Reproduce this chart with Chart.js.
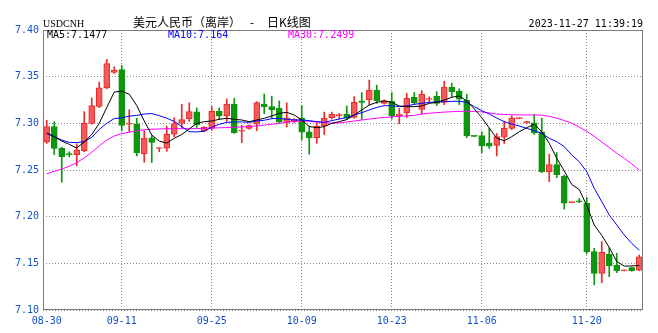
<!DOCTYPE html>
<html>
<head>
<meta charset="utf-8">
<script src="https://cdn.jsdelivr.net/npm/chart.js@4.4.0/dist/chart.umd.min.js"></script>
<style>
  body { margin: 0; background: #fff; }
  canvas { display: block; }
</style>
</head>
<body>
<canvas id="kline" width="658" height="333"></canvas>
<script>
// date labels on the time axis, and the session (candle) each one marks
const tickDates = ['08-30', '09-11', '09-25', '10-09', '10-23', '11-06', '11-20'];
const tickSlots = [0, 10, 22, 34, 46, 58, 72];

// daily candles, 80 sessions
const open = [
  7.2798, 7.2966, 7.2732, 7.2672, 7.2665, 7.2707, 7.2998, 7.3180, 7.3380, 7.3545,
  7.3575, 7.2990, 7.2995, 7.2671, 7.2846, 7.2730, 7.2735, 7.2885, 7.2998, 7.3050,
  7.3122, 7.2920, 7.2945, 7.3130, 7.3080, 7.3207, 7.2915, 7.2945, 7.2990, 7.3207,
  7.3180, 7.3162, 7.3007, 7.3018, 7.3054, 7.2910, 7.2846, 7.2971, 7.3062, 7.3080,
  7.3100, 7.3064, 7.3240, 7.3250, 7.3357, 7.3214, 7.3237, 7.3080, 7.3114, 7.3279,
  7.3150, 7.3255, 7.3293, 7.3225, 7.3386, 7.3346, 7.3250, 7.2865, 7.2868, 7.2789,
  7.2764, 7.2852, 7.2946, 7.3050, 7.3005, 7.3005, 7.2910, 7.2482, 7.2557, 7.2436,
  7.2150, 7.2165, 7.2143, 7.1625, 7.1393, 7.1596, 7.1482, 7.1420, 7.1455, 7.1428
];
const close = [
  7.2966, 7.2732, 7.2643, 7.2665, 7.2715, 7.3003, 7.3190, 7.3380, 7.3640, 7.3570,
  7.2978, 7.2997, 7.2686, 7.2843, 7.2795, 7.2735, 7.2885, 7.2998, 7.3040, 7.3125,
  7.2985, 7.2957, 7.3128, 7.3080, 7.3207, 7.2900, 7.2925, 7.2975, 7.3222, 7.3178,
  7.3143, 7.3012, 7.3060, 7.3040, 7.2905, 7.2845, 7.2971, 7.3054, 7.3100, 7.3095,
  7.3062, 7.3225, 7.3225, 7.3357, 7.3243, 7.3243, 7.3080, 7.3100, 7.3268, 7.3221,
  7.3311, 7.3260, 7.3214, 7.3389, 7.3339, 7.3260, 7.2864, 7.2860, 7.2757, 7.2754,
  7.2857, 7.2946, 7.3058, 7.3056, 7.3018, 7.2898, 7.2482, 7.2557, 7.2450, 7.2145,
  7.2158, 7.2158, 7.1625, 7.1393, 7.1618, 7.1475, 7.1421, 7.1428, 7.1422, 7.1571
];
const high = [
  7.3033, 7.3018, 7.2745, 7.2695, 7.2780, 7.3125, 7.3272, 7.3443, 7.3685, 7.3605,
  7.3622, 7.3145, 7.3055, 7.2920, 7.2870, 7.2738, 7.2970, 7.3060, 7.3205, 7.3220,
  7.3165, 7.2965, 7.3180, 7.3165, 7.3262, 7.3268, 7.2980, 7.2985, 7.3232, 7.3314,
  7.3290, 7.3240, 7.3220, 7.3050, 7.3190, 7.2970, 7.3020, 7.3120, 7.3120, 7.3105,
  7.3186, 7.3286, 7.3330, 7.3464, 7.3410, 7.3252, 7.3330, 7.3160, 7.3320, 7.3330,
  7.3350, 7.3285, 7.3340, 7.3450, 7.3430, 7.3370, 7.3310, 7.2868, 7.2910, 7.2946,
  7.2890, 7.3020, 7.3082, 7.3058, 7.3022, 7.3095, 7.3055, 7.2670, 7.2686, 7.2445,
  7.2160, 7.2195, 7.2207, 7.1661, 7.1732, 7.1668, 7.1607, 7.1430, 7.1460, 7.1590
];
const low = [
  7.2785, 7.2665, 7.2370, 7.2640, 7.2545, 7.2695, 7.2990, 7.3168, 7.3370, 7.3535,
  7.2920, 7.2912, 7.2650, 7.2583, 7.2580, 7.2695, 7.2700, 7.2855, 7.2950, 7.3020,
  7.2955, 7.2910, 7.2925, 7.3040, 7.3020, 7.2893, 7.2793, 7.2935, 7.2921, 7.3103,
  7.3050, 7.3005, 7.2960, 7.3005, 7.2821, 7.2671, 7.2786, 7.2880, 7.3045, 7.3048,
  7.3040, 7.3054, 7.3040, 7.3200, 7.3214, 7.3205, 7.3045, 7.2995, 7.3060, 7.3200,
  7.3100, 7.3232, 7.3190, 7.3200, 7.3286, 7.3200, 7.2846, 7.2855, 7.2686, 7.2730,
  7.2650, 7.2785, 7.2932, 7.3048, 7.2998, 7.2880, 7.2472, 7.2375, 7.2418, 7.2080,
  7.2148, 7.2150, 7.1600, 7.1270, 7.1293, 7.1357, 7.1400, 7.1418, 7.1415, 7.1420
];

// moving average lines as drawn on the picture
const ma5 = [
  7.2896, 7.2857, 7.2810, 7.2775, 7.2735, 7.2800, 7.2880, 7.3000, 7.3170, 7.3335,
  7.3345, 7.3312, 7.3190, 7.3025, 7.2875, 7.2810, 7.2788, 7.2840, 7.2880, 7.2940,
  7.3000, 7.3018, 7.3025, 7.3043, 7.3054, 7.3043, 7.3036, 7.3018, 7.3036, 7.3054,
  7.3079, 7.3107, 7.3118, 7.3089, 7.3036, 7.2966, 7.2954, 7.2964, 7.3000, 7.3018,
  7.3040, 7.3089, 7.3143, 7.3196, 7.3225, 7.3239, 7.3225, 7.3186, 7.3179, 7.3179,
  7.3186, 7.3214, 7.3225, 7.3250, 7.3279, 7.3293, 7.3240, 7.3155, 7.3060, 7.2950,
  7.2840, 7.2814, 7.2857, 7.2910, 7.2954, 7.2990, 7.2910, 7.2786, 7.2625, 7.2490,
  7.2345, 7.2290, 7.2120, 7.1910, 7.1800, 7.1670, 7.1520, 7.1470, 7.1472, 7.1477
];
const ma10 = [
  7.2893, 7.2857, 7.2821, 7.2796, 7.2793, 7.2805, 7.2850, 7.2935, 7.3000, 7.3052,
  7.3058, 7.3077, 7.3085, 7.3100, 7.3105, 7.3082, 7.3055, 7.3020, 7.2965, 7.2910,
  7.2908, 7.2915, 7.2958, 7.2990, 7.3010, 7.3015, 7.3015, 7.3010, 7.3025, 7.3033,
  7.3050, 7.3052, 7.3043, 7.3036, 7.3036, 7.3029, 7.3018, 7.3011, 7.3029, 7.3046,
  7.3062, 7.3089, 7.3114, 7.3143, 7.3171, 7.3189, 7.3189, 7.3179, 7.3186, 7.3204,
  7.3214, 7.3225, 7.3229, 7.3232, 7.3236, 7.3236, 7.3225, 7.3179, 7.3136, 7.3100,
  7.3057, 7.3018, 7.2993, 7.2971, 7.2946, 7.2921, 7.2893, 7.2839, 7.2804, 7.2750,
  7.2661, 7.2589, 7.2482, 7.2304, 7.2161, 7.2018, 7.1911, 7.1804, 7.1714, 7.1640
];
const ma30 = [
  7.2460, 7.2485, 7.2510, 7.2540, 7.2580, 7.2630, 7.2690, 7.2760, 7.2820, 7.2865,
  7.2890, 7.2905, 7.2920, 7.2930, 7.2937, 7.2940, 7.2942, 7.2943, 7.2943, 7.2943,
  7.2944, 7.2946, 7.2950, 7.2952, 7.2955, 7.2958, 7.2962, 7.2966, 7.2972, 7.2980,
  7.2990, 7.3000, 7.3012, 7.3022, 7.3025, 7.3022, 7.3015, 7.3008, 7.3002, 7.3005,
  7.3015, 7.3025, 7.3035, 7.3045, 7.3055, 7.3062, 7.3070, 7.3075, 7.3080, 7.3085,
  7.3100, 7.3108, 7.3115, 7.3120, 7.3125, 7.3128, 7.3130, 7.3128, 7.3122, 7.3112,
  7.3100, 7.3095, 7.3092, 7.3090, 7.3090, 7.3090, 7.3088, 7.3075, 7.3055, 7.3030,
  7.3000, 7.2960, 7.2915, 7.2860, 7.2800, 7.2740, 7.2680, 7.2625, 7.2565, 7.2499
];

const blue = '#1250c8';
const gridGray = '#8a8a8a';
const upFill = '#f45a5a', upLine = '#e82a2a', downFill = '#0e960e';
const monoFont = { family: 'DejaVu Sans Mono', size: 10 };

function isUp(i) {
  return close[i] >= open[i];
}

// one label per candle, blank except on the marked sessions
const labels = open.map(function(_, i) {
  const k = tickSlots.indexOf(i);
  return k >= 0 ? tickDates[k] : '';
});

// frame, title line and MA readouts
const header = {
  id: 'header',
  afterDraw(chart) {
    const ctx = chart.ctx;
    const a = chart.chartArea;
    ctx.save();
    ctx.strokeStyle = '#7a7a7a';
    ctx.lineWidth = 1;
    ctx.strokeRect(Math.round(a.left) + 0.5, Math.round(a.top) + 0.5,
      Math.round(a.right - a.left) - 1, Math.round(a.bottom - a.top) - 1);

    ctx.textBaseline = 'alphabetic';
    ctx.fillStyle = '#000';
    ctx.font = '10px "Liberation Serif"';
    ctx.textAlign = 'left';
    ctx.fillText('USDCNH', 43, 27);

    ctx.font = '12px "Noto Sans CJK SC"';
    ctx.fillText('美元人民币（离岸）', 133, 27);
    ctx.fillText('-', 250, 27);
    ctx.fillText('日K线图', 267, 27);

    ctx.font = '10px "DejaVu Sans Mono"';
    ctx.textAlign = 'right';
    ctx.fillText('2023-11-27 11:39:19', 643, 27);

    const last = open.length - 1;
    ctx.textAlign = 'left';
    ctx.fillStyle = '#000';
    ctx.fillText('MA5:' + ma5[last].toFixed(4), 47, 38);
    ctx.fillStyle = '#0000ff';
    ctx.fillText('MA10:' + ma10[last].toFixed(3), 168, 38);
    ctx.fillStyle = '#ff00ff';
    ctx.fillText('MA30:' + ma30[last].toFixed(4), 288, 38);
    ctx.restore();
  }
};

new Chart(document.getElementById('kline'), {
  type: 'bar',
  data: {
    labels: labels,
    datasets: [
      { type: 'line', label: 'MA5', data: ma5, borderColor: '#000000', borderWidth: 1, pointRadius: 0, order: 0 },
      { type: 'line', label: 'MA10', data: ma10, borderColor: '#0000ff', borderWidth: 1, pointRadius: 0, order: 0 },
      { type: 'line', label: 'MA30', data: ma30, borderColor: '#ff00ff', borderWidth: 1, pointRadius: 0, order: 0 },
      {
        label: 'wick',
        data: low.map(function(l, i) { return [l, high[i]]; }),
        backgroundColor: function(c) { return isUp(c.dataIndex) ? upLine : downFill; },
        barThickness: 1,
        grouped: false,
        order: 2
      },
      {
        label: 'body',
        data: open.map(function(o, i) { return [o, close[i]]; }),
        backgroundColor: function(c) { return isUp(c.dataIndex) ? upFill : downFill; },
        borderColor: function(c) { return isUp(c.dataIndex) ? upLine : downFill; },
        borderWidth: 1,
        borderSkipped: false,
        barThickness: 6,
        minBarLength: 1,
        grouped: false,
        order: 1
      }
    ]
  },
  options: {
    responsive: false,
    animation: false,
    layout: { padding: { top: 30, right: 15, left: 0, bottom: 0 } },
    plugins: {
      legend: { display: false },
      tooltip: { enabled: false }
    },
    scales: {
      x: {
        offset: true,
        grid: {
          offset: false,
          drawTicks: false,
          color: function(c) { return (c.index > 0 && labels[c.index]) ? gridGray : 'rgba(0,0,0,0)'; }
        },
        border: { display: false, dash: [1, 2] },
        ticks: {
          autoSkip: false,
          maxRotation: 0,
          padding: 5,
          color: blue,
          font: monoFont,
          callback: function(v, i) { return labels[i]; }
        },
        afterFit: function(s) { s.height = 23; }
      },
      y: {
        min: 7.10,
        max: 7.40,
        grid: { drawTicks: false, color: gridGray },
        border: { display: false, dash: [1, 2] },
        ticks: {
          stepSize: 0.05,
          padding: 4,
          color: blue,
          font: monoFont,
          callback: function(v) { return v.toFixed(2); }
        },
        afterFit: function(s) { s.width = 43; }
      }
    }
  },
  plugins: [header]
});
</script>
</body>
</html>
